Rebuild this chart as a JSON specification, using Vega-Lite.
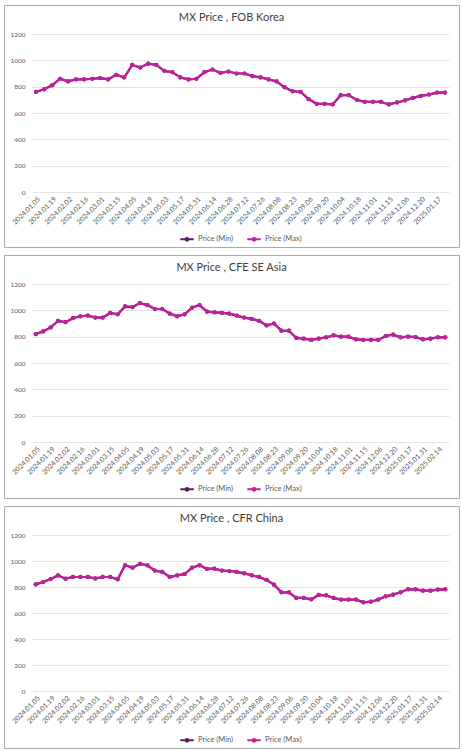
{
  "$schema": "https://vega.github.io/schema/vega-lite/v6.json",
  "padding": {"left": 3, "top": 4, "right": 0, "bottom": 0},
  "spacing": 6,
  "background": "white",
  "datasets": {
    "korea": [
      {"date": "2024.01.05", "min": 760, "max": 760},
      {"date": "2024.01.12", "min": 780, "max": 780},
      {"date": "2024.01.19", "min": 810, "max": 810},
      {"date": "2024.01.26", "min": 860, "max": 860},
      {"date": "2024.02.02", "min": 840, "max": 840},
      {"date": "2024.02.09", "min": 855, "max": 855},
      {"date": "2024.02.16", "min": 855, "max": 855},
      {"date": "2024.02.23", "min": 860, "max": 860},
      {"date": "2024.03.01", "min": 865, "max": 865},
      {"date": "2024.03.08", "min": 855, "max": 855},
      {"date": "2024.03.15", "min": 890, "max": 890},
      {"date": "2024.03.22", "min": 870, "max": 870},
      {"date": "2024.04.05", "min": 965, "max": 965},
      {"date": "2024.04.12", "min": 945, "max": 945},
      {"date": "2024.04.19", "min": 975, "max": 975},
      {"date": "2024.04.26", "min": 965, "max": 965},
      {"date": "2024.05.03", "min": 920, "max": 920},
      {"date": "2024.05.10", "min": 910, "max": 910},
      {"date": "2024.05.17", "min": 870, "max": 870},
      {"date": "2024.05.24", "min": 855, "max": 855},
      {"date": "2024.05.31", "min": 860, "max": 860},
      {"date": "2024.06.07", "min": 910, "max": 910},
      {"date": "2024.06.14", "min": 930, "max": 930},
      {"date": "2024.06.21", "min": 905, "max": 905},
      {"date": "2024.06.28", "min": 915, "max": 915},
      {"date": "2024.07.05", "min": 900, "max": 900},
      {"date": "2024.07.12", "min": 900, "max": 900},
      {"date": "2024.07.19", "min": 880, "max": 880},
      {"date": "2024.07.26", "min": 870, "max": 870},
      {"date": "2024.08.02", "min": 855, "max": 855},
      {"date": "2024.08.08", "min": 840, "max": 840},
      {"date": "2024.08.16", "min": 795, "max": 795},
      {"date": "2024.08.23", "min": 765, "max": 765},
      {"date": "2024.08.30", "min": 760, "max": 760},
      {"date": "2024.09.06", "min": 705, "max": 705},
      {"date": "2024.09.13", "min": 670, "max": 670},
      {"date": "2024.09.20", "min": 670, "max": 670},
      {"date": "2024.09.27", "min": 665, "max": 665},
      {"date": "2024.10.04", "min": 735, "max": 735},
      {"date": "2024.10.11", "min": 735, "max": 735},
      {"date": "2024.10.18", "min": 700, "max": 700},
      {"date": "2024.10.25", "min": 685, "max": 685},
      {"date": "2024.11.01", "min": 685, "max": 685},
      {"date": "2024.11.08", "min": 685, "max": 685},
      {"date": "2024.11.15", "min": 665, "max": 665},
      {"date": "2024.11.22", "min": 680, "max": 680},
      {"date": "2024.12.06", "min": 695, "max": 695},
      {"date": "2024.12.13", "min": 715, "max": 715},
      {"date": "2024.12.20", "min": 730, "max": 730},
      {"date": "2024.12.27", "min": 740, "max": 740},
      {"date": "2025.01.17", "min": 755, "max": 755},
      {"date": "2025.01.24", "min": 755, "max": 755}
    ],
    "asia": [
      {"date": "2024.01.05", "min": 820, "max": 820},
      {"date": "2024.01.12", "min": 840, "max": 840},
      {"date": "2024.01.19", "min": 870, "max": 870},
      {"date": "2024.01.26", "min": 920, "max": 920},
      {"date": "2024.02.02", "min": 910, "max": 910},
      {"date": "2024.02.09", "min": 940, "max": 940},
      {"date": "2024.02.16", "min": 955, "max": 955},
      {"date": "2024.02.23", "min": 960, "max": 960},
      {"date": "2024.03.01", "min": 945, "max": 945},
      {"date": "2024.03.08", "min": 945, "max": 945},
      {"date": "2024.03.15", "min": 980, "max": 980},
      {"date": "2024.03.22", "min": 970, "max": 970},
      {"date": "2024.04.05", "min": 1030, "max": 1030},
      {"date": "2024.04.12", "min": 1025, "max": 1025},
      {"date": "2024.04.19", "min": 1055, "max": 1055},
      {"date": "2024.04.26", "min": 1040, "max": 1040},
      {"date": "2024.05.03", "min": 1010, "max": 1010},
      {"date": "2024.05.10", "min": 1010, "max": 1010},
      {"date": "2024.05.17", "min": 975, "max": 975},
      {"date": "2024.05.24", "min": 955, "max": 955},
      {"date": "2024.05.31", "min": 970, "max": 970},
      {"date": "2024.06.07", "min": 1020, "max": 1020},
      {"date": "2024.06.14", "min": 1040, "max": 1040},
      {"date": "2024.06.21", "min": 990, "max": 990},
      {"date": "2024.06.28", "min": 985, "max": 985},
      {"date": "2024.07.05", "min": 980, "max": 980},
      {"date": "2024.07.12", "min": 975, "max": 975},
      {"date": "2024.07.19", "min": 960, "max": 960},
      {"date": "2024.07.26", "min": 945, "max": 945},
      {"date": "2024.08.02", "min": 935, "max": 935},
      {"date": "2024.08.08", "min": 920, "max": 920},
      {"date": "2024.08.16", "min": 885, "max": 885},
      {"date": "2024.08.23", "min": 900, "max": 900},
      {"date": "2024.08.30", "min": 845, "max": 845},
      {"date": "2024.09.06", "min": 845, "max": 845},
      {"date": "2024.09.13", "min": 790, "max": 790},
      {"date": "2024.09.20", "min": 785, "max": 785},
      {"date": "2024.09.27", "min": 775, "max": 775},
      {"date": "2024.10.04", "min": 785, "max": 785},
      {"date": "2024.10.11", "min": 795, "max": 795},
      {"date": "2024.10.18", "min": 810, "max": 810},
      {"date": "2024.10.25", "min": 800, "max": 800},
      {"date": "2024.11.01", "min": 800, "max": 800},
      {"date": "2024.11.08", "min": 780, "max": 780},
      {"date": "2024.11.15", "min": 775, "max": 775},
      {"date": "2024.11.22", "min": 775, "max": 775},
      {"date": "2024.12.06", "min": 775, "max": 775},
      {"date": "2024.12.13", "min": 805, "max": 805},
      {"date": "2024.12.20", "min": 815, "max": 815},
      {"date": "2024.12.27", "min": 795, "max": 795},
      {"date": "2025.01.17", "min": 800, "max": 800},
      {"date": "2025.01.24", "min": 797, "max": 797},
      {"date": "2025.01.31", "min": 780, "max": 780},
      {"date": "2025.02.07", "min": 785, "max": 785},
      {"date": "2025.02.14", "min": 795, "max": 795},
      {"date": "2025.02.21", "min": 795, "max": 795}
    ],
    "china": [
      {"date": "2024.01.05", "min": 820, "max": 820},
      {"date": "2024.01.12", "min": 838, "max": 838},
      {"date": "2024.01.19", "min": 861, "max": 861},
      {"date": "2024.01.26", "min": 889, "max": 889},
      {"date": "2024.02.02", "min": 864, "max": 864},
      {"date": "2024.02.09", "min": 877, "max": 877},
      {"date": "2024.02.16", "min": 877, "max": 877},
      {"date": "2024.02.23", "min": 877, "max": 877},
      {"date": "2024.03.01", "min": 866, "max": 866},
      {"date": "2024.03.08", "min": 877, "max": 877},
      {"date": "2024.03.15", "min": 877, "max": 877},
      {"date": "2024.03.22", "min": 859, "max": 859},
      {"date": "2024.04.05", "min": 967, "max": 967},
      {"date": "2024.04.12", "min": 949, "max": 949},
      {"date": "2024.04.19", "min": 977, "max": 977},
      {"date": "2024.04.26", "min": 967, "max": 967},
      {"date": "2024.05.03", "min": 926, "max": 926},
      {"date": "2024.05.10", "min": 916, "max": 916},
      {"date": "2024.05.17", "min": 877, "max": 877},
      {"date": "2024.05.24", "min": 889, "max": 889},
      {"date": "2024.05.31", "min": 900, "max": 900},
      {"date": "2024.06.07", "min": 949, "max": 949},
      {"date": "2024.06.14", "min": 967, "max": 967},
      {"date": "2024.06.21", "min": 939, "max": 939},
      {"date": "2024.06.28", "min": 941, "max": 941},
      {"date": "2024.07.05", "min": 926, "max": 926},
      {"date": "2024.07.12", "min": 923, "max": 923},
      {"date": "2024.07.19", "min": 916, "max": 916},
      {"date": "2024.07.26", "min": 905, "max": 905},
      {"date": "2024.08.02", "min": 890, "max": 890},
      {"date": "2024.08.08", "min": 877, "max": 877},
      {"date": "2024.08.16", "min": 854, "max": 854},
      {"date": "2024.08.23", "min": 818, "max": 818},
      {"date": "2024.08.30", "min": 759, "max": 759},
      {"date": "2024.09.06", "min": 759, "max": 759},
      {"date": "2024.09.13", "min": 716, "max": 716},
      {"date": "2024.09.20", "min": 716, "max": 716},
      {"date": "2024.09.27", "min": 705, "max": 705},
      {"date": "2024.10.04", "min": 739, "max": 739},
      {"date": "2024.10.11", "min": 736, "max": 736},
      {"date": "2024.10.18", "min": 716, "max": 716},
      {"date": "2024.10.25", "min": 703, "max": 703},
      {"date": "2024.11.01", "min": 703, "max": 703},
      {"date": "2024.11.08", "min": 703, "max": 703},
      {"date": "2024.11.15", "min": 682, "max": 682},
      {"date": "2024.11.22", "min": 687, "max": 687},
      {"date": "2024.12.06", "min": 703, "max": 703},
      {"date": "2024.12.13", "min": 728, "max": 728},
      {"date": "2024.12.20", "min": 741, "max": 741},
      {"date": "2024.12.27", "min": 759, "max": 759},
      {"date": "2025.01.17", "min": 782, "max": 782},
      {"date": "2025.01.24", "min": 782, "max": 782},
      {"date": "2025.01.31", "min": 772, "max": 772},
      {"date": "2025.02.07", "min": 772, "max": 772},
      {"date": "2025.02.14", "min": 780, "max": 780},
      {"date": "2025.02.21", "min": 782, "max": 782}
    ]
  },
  "vconcat": [
    {
      "width": 455,
      "height": 242,
      "title": {"text": "MX Price , FOB Korea"},
      "data": {"name": "korea"},
      "encoding": {
        "x": {
          "field": "date", "type": "ordinal", "sort": null,
          "scale": {"type": "point", "range": [28, 445], "padding": 0.5},
          "axis": {"title": null, "offset": -55, "labelAngle": -45, "labelPadding": 3, "labelFontSize": 7,
            "values": ["2024.01.05","2024.01.19","2024.02.02","2024.02.16","2024.03.01","2024.03.15","2024.04.05","2024.04.19","2024.05.03","2024.05.17","2024.05.31","2024.06.14","2024.06.28","2024.07.12","2024.07.26","2024.08.08","2024.08.23","2024.09.06","2024.09.20","2024.10.04","2024.10.18","2024.11.01","2024.11.15","2024.12.06","2024.12.20","2025.01.17"]}
        }
      },
      "layer": [
        {
          "mark": {"type": "line", "strokeWidth": 2.2, "point": {"filled": true, "size": 18}},
          "encoding": {
            "y": {"field": "min", "type": "quantitative",
              "scale": {"domain": [0, 1200], "range": [187, 29], "nice": false},
              "axis": {"title": null, "offset": -26, "labelPadding": 5, "format": "d", "values": [0, 200, 400, 600, 800, 1000, 1200], "labelFontSize": 6.5}},
            "color": {"datum": "Price (Min)"}
          }
        },
        {
          "mark": {"type": "line", "strokeWidth": 2.2, "point": {"filled": true, "size": 18}},
          "encoding": {
            "y": {"field": "max", "type": "quantitative"},
            "color": {"datum": "Price (Max)"}
          }
        }
      ]
    },
    {
      "width": 455,
      "height": 243,
      "title": {"text": "MX Price , CFE SE Asia"},
      "data": {"name": "asia"},
      "encoding": {
        "x": {
          "field": "date", "type": "ordinal", "sort": null,
          "scale": {"type": "point", "range": [28, 445], "padding": 0.5},
          "axis": {"title": null, "offset": -56, "labelAngle": -45, "labelPadding": 3, "labelFontSize": 7,
            "values": ["2024.01.05","2024.01.19","2024.02.02","2024.02.16","2024.03.01","2024.03.15","2024.04.05","2024.04.19","2024.05.03","2024.05.17","2024.05.31","2024.06.14","2024.06.28","2024.07.12","2024.07.26","2024.08.08","2024.08.23","2024.09.06","2024.09.20","2024.10.04","2024.10.18","2024.11.01","2024.11.15","2024.12.06","2024.12.20","2025.01.17","2025.01.31","2025.02.14"]}
        }
      },
      "layer": [
        {
          "mark": {"type": "line", "strokeWidth": 2.2, "point": {"filled": true, "size": 18}},
          "encoding": {
            "y": {"field": "min", "type": "quantitative",
              "scale": {"domain": [0, 1200], "range": [187, 29], "nice": false},
              "axis": {"title": null, "offset": -26, "labelPadding": 5, "format": "d", "values": [0, 200, 400, 600, 800, 1000, 1200], "labelFontSize": 6.5}},
            "color": {"datum": "Price (Min)"}
          }
        },
        {
          "mark": {"type": "line", "strokeWidth": 2.2, "point": {"filled": true, "size": 18}},
          "encoding": {
            "y": {"field": "max", "type": "quantitative"},
            "color": {"datum": "Price (Max)"}
          }
        }
      ]
    },
    {
      "width": 455,
      "height": 242,
      "title": {"text": "MX Price , CFR China"},
      "data": {"name": "china"},
      "encoding": {
        "x": {
          "field": "date", "type": "ordinal", "sort": null,
          "scale": {"type": "point", "range": [28, 445], "padding": 0.5},
          "axis": {"title": null, "offset": -57, "labelAngle": -45, "labelPadding": 3, "labelFontSize": 7,
            "values": ["2024.01.05","2024.01.19","2024.02.02","2024.02.16","2024.03.01","2024.03.15","2024.04.05","2024.04.19","2024.05.03","2024.05.17","2024.05.31","2024.06.14","2024.06.28","2024.07.12","2024.07.26","2024.08.08","2024.08.23","2024.09.06","2024.09.20","2024.10.04","2024.10.18","2024.11.01","2024.11.15","2024.12.06","2024.12.20","2025.01.17","2025.01.31","2025.02.14"]}
        }
      },
      "layer": [
        {
          "mark": {"type": "line", "strokeWidth": 2.2, "point": {"filled": true, "size": 18}},
          "encoding": {
            "y": {"field": "min", "type": "quantitative",
              "scale": {"domain": [0, 1200], "range": [185, 29], "nice": false},
              "axis": {"title": null, "offset": -26, "labelPadding": 5, "format": "d", "values": [0, 200, 400, 600, 800, 1000, 1200], "labelFontSize": 6.5}},
            "color": {"datum": "Price (Min)"}
          }
        },
        {
          "mark": {"type": "line", "strokeWidth": 2.2, "point": {"filled": true, "size": 18}},
          "encoding": {
            "y": {"field": "max", "type": "quantitative"},
            "color": {"datum": "Price (Max)"}
          }
        }
      ]
    }
  ],
  "resolve": {"legend": {"color": "independent"}},
  "config": {
    "font": "Lato",
    "view": {"stroke": "#aaaaaa", "strokeWidth": 1},
    "title": {"font": "Lato", "fontSize": 11, "fontWeight": "normal", "color": "#404040", "anchor": "middle", "frame": "group", "baseline": "middle", "offset": -18},
    "axis": {"labelFont": "Lato", "labelColor": "#595959", "domain": false, "ticks": false, "tickSize": 0, "gridColor": "#e3e3e3", "gridWidth": 1},
    "axisX": {"grid": false},
    "axisY": {"grid": true},
    "range": {"category": ["#5C1B5C", "#C0209A"]},
    "legend": {
      "orient": "none", "legendX": 175, "legendY": 226, "direction": "horizontal", "title": null,
      "labelFont": "Lato", "labelFontSize": 7.5, "labelColor": "#595959",
      "symbolType": "M-1,0L1,0M-0.2,0A0.2,0.2,0,1,1,0.2,0A0.2,0.2,0,1,1,-0.2,0",
      "symbolSize": 180, "symbolStrokeWidth": 2, "columnPadding": 9, "labelOffset": 3
    },
    "line": {"strokeCap": "round"}
  }
}
